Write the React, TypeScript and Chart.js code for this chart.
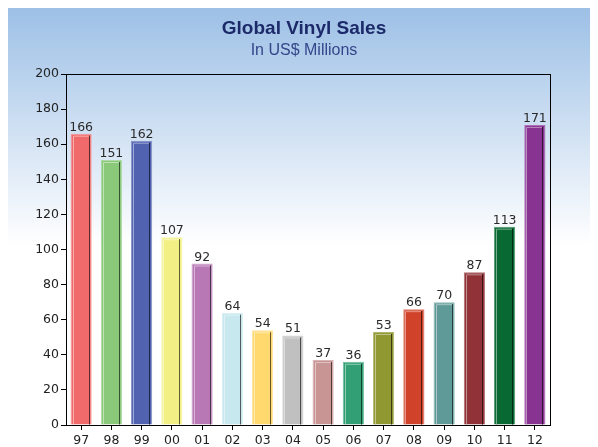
import React, { useEffect, useRef } from "react";
import { Chart, registerables } from "chart.js";

Chart.register(...registerables);

const categories = ["97", "98", "99", "00", "01", "02", "03", "04", "05", "06", "07", "08", "09", "10", "11", "12"];
const sales = [166, 151, 162, 107, 92, 64, 54, 51, 37, 36, 53, 66, 70, 87, 113, 171];
const barColors = [
  "#f06a6c", "#8ac87a", "#5062b0", "#f2f084", "#b878b6", "#c6e8ee", "#ffd86e", "#c0c0c0",
  "#c89494", "#32a074", "#909832", "#d0422a", "#609a98", "#903238", "#086a32", "#883292",
];
const yTicks = [0, 20, 40, 60, 80, 100, 120, 140, 160, 180, 200];

function shade(hex: string, amt: number): string {
  const n = parseInt(hex.slice(1), 16);
  let r = (n >> 16) & 255, g = (n >> 8) & 255, b = n & 255;
  if (amt >= 0) {
    r = Math.round(r + (255 - r) * amt); g = Math.round(g + (255 - g) * amt); b = Math.round(b + (255 - b) * amt);
  } else {
    r = Math.round(r * (1 + amt)); g = Math.round(g * (1 + amt)); b = Math.round(b * (1 + amt));
  }
  return `rgb(${r},${g},${b})`;
}

const bgPlugin = {
  id: "bgGradient",
  beforeDraw(chart: any) {
    const { ctx, width, height } = chart;
    const g = ctx.createLinearGradient(0, 0, 0, height);
    g.addColorStop(0, "#9dc0e6");
    g.addColorStop(0.54, "#ffffff");
    g.addColorStop(1, "#ffffff");
    ctx.save();
    ctx.fillStyle = g;
    ctx.fillRect(0, 0, width, height);
    ctx.restore();
  },
};

const bevelPlugin = {
  id: "bevelLabels",
  afterDatasetsDraw(chart: any) {
    const { ctx } = chart;
    const meta = chart.getDatasetMeta(0);
    ctx.save();
    meta.data.forEach((bar: any, i: number) => {
      const { x, y, base, width } = bar.getProps(["x", "y", "base", "width"], true);
      const l = x - width / 2, r = x + width / 2;
      const c = barColors[i];
      ctx.lineWidth = 1;
      ctx.strokeStyle = shade(c, -0.6);
      ctx.beginPath();
      ctx.moveTo(Math.round(r) - 2.5, y + 2);
      ctx.lineTo(Math.round(r) - 2.5, base);
      ctx.stroke();
      ctx.strokeStyle = shade(c, 0.45);
      ctx.beginPath();
      ctx.moveTo(Math.round(l) + 2.5, base);
      ctx.lineTo(Math.round(l) + 2.5, y + 2.5);
      ctx.lineTo(Math.round(r) - 3, y + 2.5);
      ctx.stroke();
      ctx.fillStyle = "#2a2a2a";
      ctx.font = "12.5px 'DejaVu Sans'";
      ctx.textAlign = "center";
      ctx.textBaseline = "bottom";
      ctx.fillText(String(sales[i]), x, y);
    });
    const a = chart.chartArea;
    ctx.strokeStyle = "#000";
    ctx.lineWidth = 1;
    ctx.strokeRect(Math.round(a.left) + 0.5, Math.round(a.top) + 0.5, Math.round(a.right - a.left), Math.round(a.bottom - a.top));
    ctx.restore();
  },
};

export default function App() {
  const ref = useRef<HTMLCanvasElement>(null);
  useEffect(() => {
    if (!ref.current) return;
    const chart = new Chart(ref.current, {
      type: "bar",
      data: {
        labels: categories,
        datasets: [
          {
            data: sales,
            backgroundColor: barColors,
            borderColor: barColors.map((c) => shade(c, 0.3)),
            borderWidth: 1,
            categoryPercentage: 1,
            barPercentage: 0.7,
          },
        ],
      },
      options: {
        animation: false,
        responsive: false,
        layout: { padding: { left: 10, right: 0, top: 0, bottom: 0 } },
        plugins: {
          legend: { display: false },
          tooltip: { enabled: false },
          title: {
            display: true,
            text: "Global Vinyl Sales",
            color: "#1c2a6a",
            font: { family: "'Liberation Sans', Arial, sans-serif", size: 19, weight: "bold" },
            padding: { top: 9, bottom: 1 },
          },
          subtitle: {
            display: true,
            text: "In US$ Millions",
            color: "#34468a",
            font: { family: "'Liberation Sans', Arial, sans-serif", size: 16 },
            padding: { top: 0, bottom: 14 },
          },
        },
        scales: {
          x: {
            grid: { display: true, drawOnChartArea: false, offset: false, color: "#000", tickLength: 5 },
            border: { color: "#000", width: 1 },
            ticks: { color: "#222", font: { family: "'DejaVu Sans'", size: 12.5 }, padding: 3 },
            afterFit(scale: any) { scale.height = 22; },
          },
          y: {
            min: 0,
            max: 200,
            afterBuildTicks(scale: any) { scale.ticks = yTicks.map((v) => ({ value: v })); },
            grid: { display: true, drawOnChartArea: false, color: "#000", tickLength: 5 },
            border: { color: "#000", width: 1 },
            ticks: { color: "#222", font: { family: "'DejaVu Sans'", size: 12.5 }, padding: 2 },
            afterFit(scale: any) { scale.width = 48; },
          },
          yRight: {
            position: "right",
            display: true,
            grid: { display: false, drawTicks: false },
            border: { display: false },
            ticks: { display: false },
            afterFit(scale: any) { scale.width = 40; },
          },
        },
      },
      plugins: [bgPlugin, bevelPlugin],
    });
    return () => chart.destroy();
  }, []);
  return <canvas ref={ref} width={582} height={439} style={{ display: "block", width: 582, height: 439 }} />;
}
